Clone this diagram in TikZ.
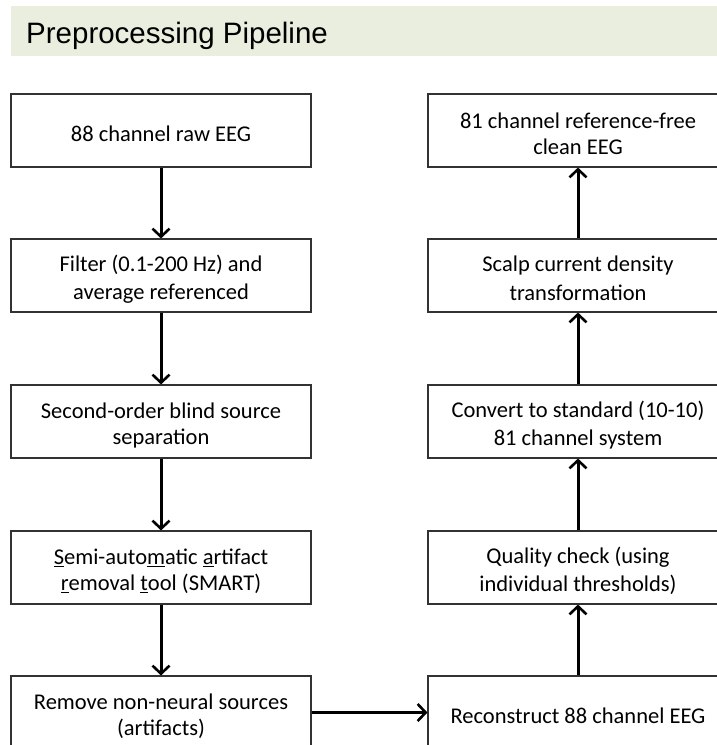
\documentclass[tikz,border=0pt]{standalone}
\usepackage{fontspec}
\setmainfont{Carlito}
\newfontfamily\titlefont{Liberation Sans}
\usetikzlibrary{arrows.meta}
\definecolor{titlebg}{RGB}{233,238,223}
\definecolor{boxline}{RGB}{50,50,50}
% line strut: 23.5pt above and 2.5pt below the baseline, one baselineskip in total
\newcommand{\ls}{\rule[-2.5pt]{0pt}{26pt}}
\tikzset{
  stage/.style={draw=boxline, line width=1.1pt, minimum width=300pt, minimum height=73pt,
    inner sep=0pt, align=center, font=\fontsize{22.5}{26}\selectfont},
  flow/.style={line width=3pt, -{Straight Barb[length=8pt,width=17pt,line width=2.6pt]}}
}
\begin{document}
\begin{tikzpicture}[x=1pt,y=-1pt]
\useasboundingbox (0,0) rectangle (717,745);
\clip (0,0) rectangle (717,745);
% title bar
\fill[titlebg] (11,6) rectangle (730,56);
\node[anchor=base west, inner sep=0pt, font=\titlefont\fontsize{29.5}{34}\selectfont] (title) at (26,43) {Preprocessing Pipeline};
% left column
\node[stage] (L1) at (161,130.5) {\ls 88 channel raw EEG};
\node[stage] (L2) at (161,275.5) {\ls Filter (0.1-200 Hz) and\\\ls average referenced};
\node[stage] (L3) at (161,421.5) {\ls Second-order blind source\\\ls separation};
\node[stage] (L4) at (161,567.5) {\ls \underline{S}emi-auto\underline{m}atic \underline{a}rtifact\\\ls \underline{r}emoval \underline{t}ool (SMART)};
\node[stage] (L5) at (161,712.5) {\ls Remove non-neural sources\\\ls (artifacts)};
% right column
\node[stage] (R1) at (578,130.5) {\ls 81 channel reference-free\\\ls clean EEG};
\node[stage] (R2) at (578,275.5) {\ls Scalp current density\\\ls transformation};
\node[stage] (R3) at (578,421.5) {\ls Convert to standard (10-10)\\\ls 81 channel system};
\node[stage] (R4) at (578,567.5) {\ls Quality check (using\\\ls individual thresholds)};
\node[stage] (R5) at (578,712.5) {\ls Reconstruct 88 channel EEG};
% connectors
\draw[flow] (L1) -- (L2);
\draw[flow] (L2) -- (L3);
\draw[flow] (L3) -- (L4);
\draw[flow] (L4) -- (L5);
\draw[flow] (L5) -- (R5);
\draw[flow] (R5) -- (R4);
\draw[flow] (R4) -- (R3);
\draw[flow] (R3) -- (R2);
\draw[flow] (R2) -- (R1);
\end{tikzpicture}
\end{document}
